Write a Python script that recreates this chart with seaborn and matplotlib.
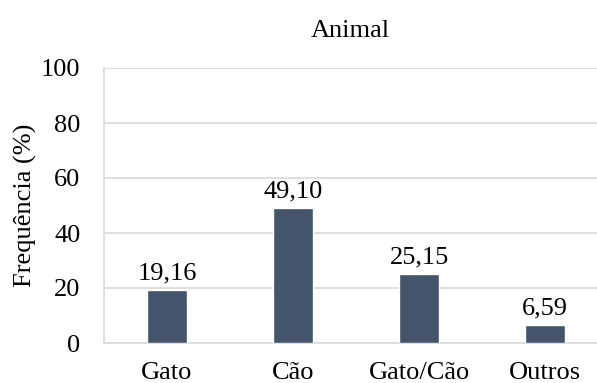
import matplotlib
matplotlib.use("Agg")
import matplotlib.pyplot as plt
import seaborn as sns
import pandas as pd

# data
categorias = ["Gato", "Cão", "Gato/Cão", "Outros"]
frequencia = [19.16, 49.10, 25.15, 6.59]
rotulos = ["19,16", "49,10", "25,15", "6,59"]

df = pd.DataFrame({"Animal": categorias, "Freq": frequencia})

sns.set_theme(style="white")
plt.rcParams["font.family"] = ["Liberation Serif", "DejaVu Serif"]

fig = plt.figure(figsize=(5.97, 3.83), dpi=100)
ax = fig.add_axes([104 / 597, 1 - 343 / 383, 1 - 104 / 597, (343 - 68) / 383])

sns.barplot(data=df, x="Animal", y="Freq", color="#44546A", saturation=1,
            width=0.317, ax=ax, zorder=3)

# value labels
for i, (v, r) in enumerate(zip(frequencia, rotulos)):
    ax.annotate(r, (i, v), xytext=(0, 4), textcoords="offset points",
                ha="center", va="bottom", fontsize=19, color="black")

ax.set_ylim(0, 100)
ax.set_yticks([0, 20, 40, 60, 80, 100])
ax.set_xlim(-0.5, 3.41)
ax.yaxis.grid(True, color="#D9D9D9", linewidth=1.2, zorder=0)
ax.set_axisbelow(True)

for s in ["top", "right"]:
    ax.spines[s].set_visible(False)
for s in ["left", "bottom"]:
    ax.spines[s].set_color("#D9D9D9")
    ax.spines[s].set_linewidth(1.2)

ax.tick_params(axis="y", length=0, pad=17, labelsize=19, labelcolor="black")
ax.tick_params(axis="x", length=0, pad=14, labelsize=19, labelcolor="black")
ax.set_xlabel("")
ax.set_ylabel("Frequência (%)", fontsize=19, color="black", labelpad=3)
ax.set_title("Animal", fontsize=19, color="black", pad=22)

fig.savefig("out.png", dpi=100)
